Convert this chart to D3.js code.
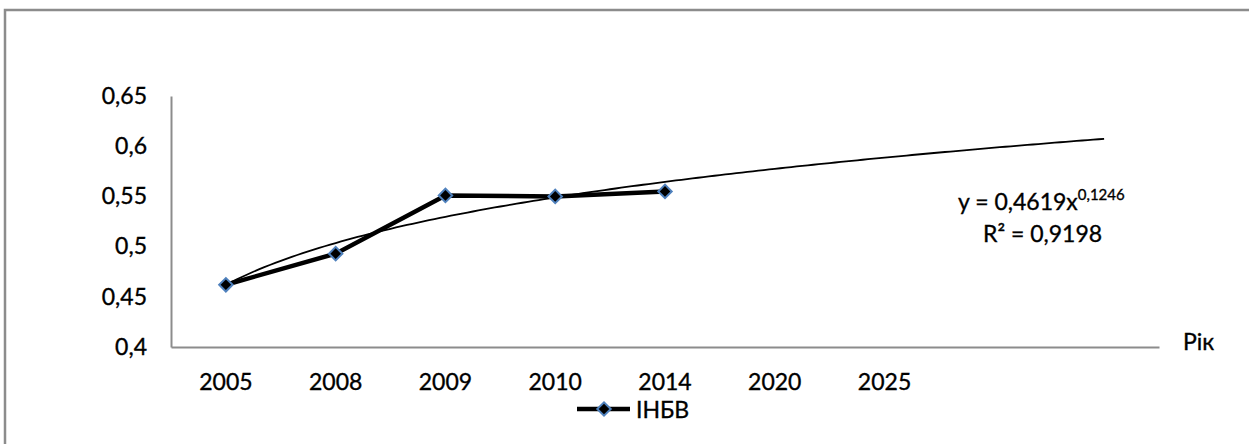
<!DOCTYPE html>
<html>
<head>
<meta charset="utf-8">
<script src="https://cdn.jsdelivr.net/npm/d3@7"></script>
<style>
  body { margin: 0; background: #fff; }
  text { font-family: Lato, sans-serif; fill: #000; stroke: #000; stroke-width: 0.35px; }
</style>
</head>
<body>
<svg width="1249" height="444"></svg>
<script>
// categories (last two are empty slots used by the trendline forecast)
let years = ["2005", "2008", "2009", "2010", "2014", "2020", "2025", "", ""];
// ІНБВ values
let values = [0.462, 0.493, 0.551, 0.550, 0.555];
let yTicks = [0.4, 0.45, 0.5, 0.55, 0.6, 0.65];
// power trendline y = a * x^b
let trendA = 0.4619;
let trendB = 0.1246;

let svg = d3.select("svg");
let font = "Lato";

// outer frame
svg.append("rect")
  .attr("x", 5).attr("y", 10)
  .attr("width", 1260).attr("height", 460)
  .attr("fill", "none")
  .attr("stroke", "#8c8c8c")
  .attr("stroke-width", 2.5);

let plotLeft = 171, plotRight = 1159, plotTop = 96, plotBottom = 347;

let x = d3.scaleBand().domain(d3.range(years.length)).range([plotLeft, plotRight]).padding(0);
let y = d3.scaleLinear().domain([0.4, 0.65]).range([plotBottom, plotTop]);
let cx = i => x(i) + x.bandwidth() / 2;

// axes
let yAxis = d3.axisLeft(y).tickValues(yTicks).tickSize(0).tickPadding(24)
  .tickFormat(d => String(d).replace(".", ","));
let gy = svg.append("g").attr("transform", `translate(${plotLeft},0)`).call(yAxis);
gy.select(".domain").attr("stroke", "#8c8c8c").attr("stroke-width", 2);
gy.selectAll("text").attr("font-size", 23).attr("font-family", font);

let xAxis = d3.axisBottom(x).tickSize(0).tickPadding(27).tickFormat(i => years[i]);
let gx = svg.append("g").attr("transform", `translate(0,${plotBottom})`).call(xAxis);
gx.select(".domain").attr("stroke", "#8c8c8c").attr("stroke-width", 2);
gx.selectAll("text").attr("font-size", 23).attr("font-family", font);

svg.append("text")
  .attr("x", 1183).attr("y", 350)
  .attr("font-size", 23)
  .text("Рік");

// trendline
let trendPts = d3.range(1, 9.001, 0.05).map(t => [t, trendA * Math.pow(t, trendB)]);
let tx = d3.scaleLinear().domain([1, 9]).range([cx(0), cx(8)]);
svg.append("path")
  .datum(trendPts)
  .attr("fill", "none")
  .attr("stroke", "#000")
  .attr("stroke-width", 1.8)
  .attr("d", d3.line().x(d => tx(d[0])).y(d => y(d[1])));

// series line
svg.append("path")
  .datum(values)
  .attr("fill", "none")
  .attr("stroke", "#000")
  .attr("stroke-width", 4.5)
  .attr("d", d3.line().x((d, i) => cx(i)).y(d => y(d)));

svg.selectAll(".mk")
  .data(values)
  .enter()
  .append("path")
  .attr("class", "mk")
  .attr("d", d3.symbol().type(d3.symbolSquare).size(90))
  .attr("transform", (d, i) => `translate(${cx(i)},${y(d)}) rotate(45)`)
  .attr("fill", "#000")
  .attr("stroke", "#4f81bd")
  .attr("stroke-width", 2);

// equation
let eq = svg.append("text").attr("x", 958).attr("y", 210).attr("font-size", 23);
eq.append("tspan").text("y = 0,4619x");
eq.append("tspan").attr("dy", -10).attr("font-size", 15).text("0,1246");
svg.append("text").attr("x", 983).attr("y", 242).attr("font-size", 23).text("R² = 0,9198");

// legend
svg.append("line")
  .attr("x1", 577).attr("x2", 630).attr("y1", 409).attr("y2", 409)
  .attr("stroke", "#000").attr("stroke-width", 4.5);
svg.append("path")
  .attr("d", d3.symbol().type(d3.symbolSquare).size(90))
  .attr("transform", "translate(604,409) rotate(45)")
  .attr("fill", "#000").attr("stroke", "#4f81bd").attr("stroke-width", 2);
svg.append("text").attr("x", 636).attr("y", 418).attr("font-size", 23).text("ІНБВ");
</script>
</body>
</html>
